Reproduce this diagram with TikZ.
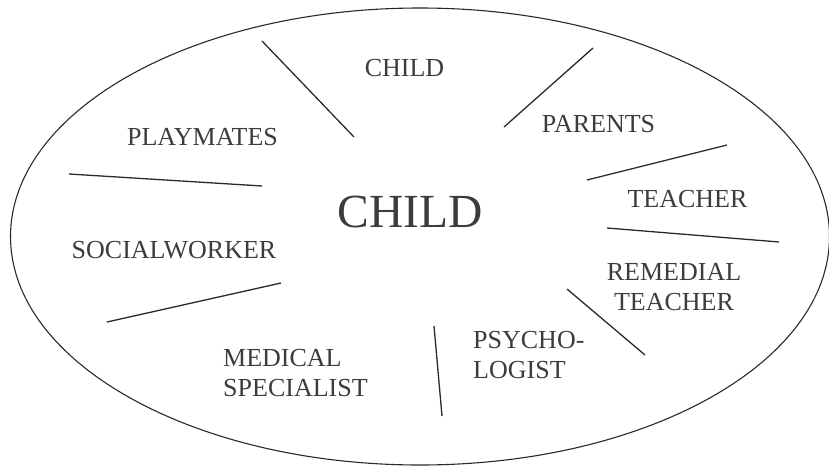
\documentclass[tikz,border=0pt]{standalone}
\usepackage{fontspec}
\setmainfont{Liberation Serif}
\definecolor{txtgray}{HTML}{3C3C3C}
\definecolor{linegray}{HTML}{2A2A2A}
\begin{document}
\begin{tikzpicture}[x=1pt,y=-1pt,
  lbl/.style={inner sep=0pt, text=txtgray, font=\fontsize{26}{30}\selectfont},
  biglbl/.style={inner sep=0pt, text=txtgray, font=\fontsize{47.5}{52}\selectfont},
  spoke/.style={draw=linegray, line width=1.3pt},
  rim/.style={draw=linegray, line width=1.1pt}]
\useasboundingbox (0,0) rectangle (829,466);
\draw[rim] (420,236.5) ellipse [x radius=409.5, y radius=228.5];
% labels
\node[biglbl] (center) at (410.5,212.5) {CHILD};
\node[lbl] (child) at (404.5,68) {CHILD};
\node[lbl] (play) at (202.5,137) {PLAYMATES};
\node[lbl] (parents) at (598.5,124) {PARENTS};
\node[lbl] (teacher) at (687.5,199) {TEACHER};
\node[lbl] (social) at (174,250.5) {SOCIALWORKER};
\node[lbl, align=center, anchor=north] (remedial) at (674,263) {REMEDIAL\\TEACHER};
\node[lbl, align=left, anchor=north west] (psycho) at (473,331) {PSYCHO-\\LOGIST};
\node[lbl, align=left, anchor=north west] (medical) at (223,349) {MEDICAL\\SPECIALIST};
% spoke end points
\coordinate (a1) at (262,41);  \coordinate (a2) at (354,137);
\coordinate (b1) at (69,174);  \coordinate (b2) at (262,186);
\coordinate (c1) at (593,48);  \coordinate (c2) at (504,127);
\coordinate (d1) at (587,180); \coordinate (d2) at (727,145);
\coordinate (e1) at (607,228); \coordinate (e2) at (779,242);
\coordinate (f1) at (567,289); \coordinate (f2) at (645,355);
\coordinate (g1) at (434,326); \coordinate (g2) at (442,416);
\coordinate (h1) at (107,322); \coordinate (h2) at (281,283);
\draw[spoke] (a1) -- (a2);
\draw[spoke] (b1) -- (b2);
\draw[spoke] (c1) -- (c2);
\draw[spoke] (d1) -- (d2);
\draw[spoke] (e1) -- (e2);
\draw[spoke] (f1) -- (f2);
\draw[spoke] (g1) -- (g2);
\draw[spoke] (h1) -- (h2);
\end{tikzpicture}
\end{document}
